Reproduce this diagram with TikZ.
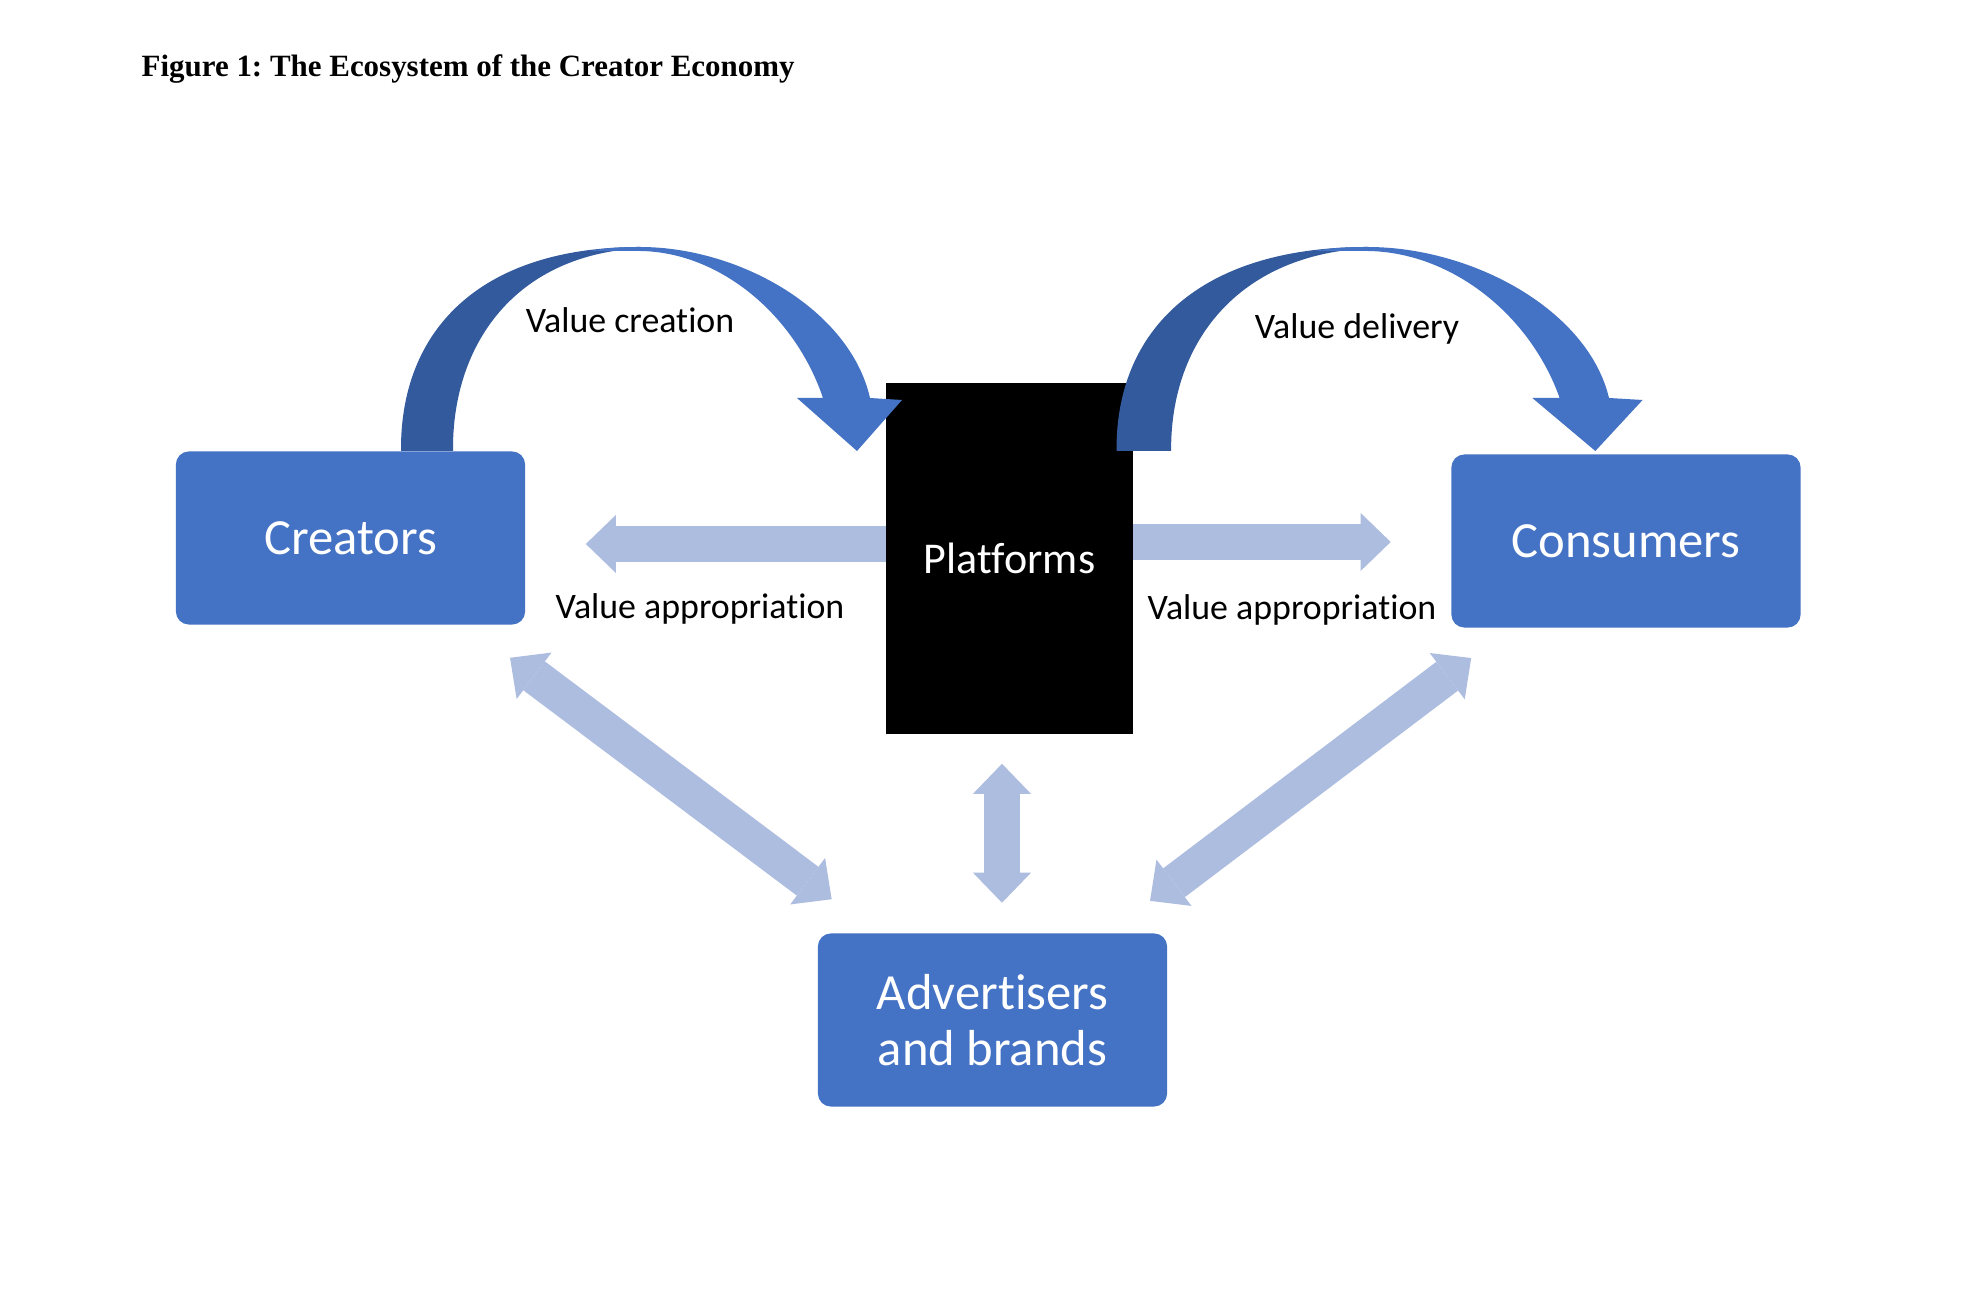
\documentclass[tikz,border=0pt]{standalone}
\usepackage{fontspec}
\setmainfont{Carlito}[Ligatures=NoCommon]
\newfontfamily\titlefont{Liberation Serif}
\usetikzlibrary{arrows.meta,positioning}
\frenchspacing

\definecolor{boxblue}{HTML}{4472C4}
\definecolor{arcdark}{HTML}{335A9D}
\definecolor{linkblue}{HTML}{ADBDE0}

\tikzset{
  actor/.style={fill=boxblue,rounded corners=0.13cm,minimum width=3.49cm,minimum height=1.73cm,
    text=white,align=center,font=\fontsize{14.4pt}{15.8pt}\selectfont},
  linkarr/.style={draw=linkblue,line width=0.36cm,-{Triangle[width=0.58cm,length=0.30cm,line width=0pt]}},
  botharr/.style={linkarr,{Triangle[width=0.58cm,length=0.30cm,line width=0pt]}-{Triangle[width=0.58cm,length=0.30cm,line width=0pt]}},
  lbl/.style={font=\fontsize{10.2pt}{12pt}\selectfont}
}

\begin{document}
\begin{tikzpicture}[x=0.01cm,y=-0.01cm]
\fill[white] (0,0) rectangle (1974,1292);
\useasboundingbox (0,0) rectangle (1974,1292);

\node[anchor=base west,inner sep=0,font=\titlefont\bfseries\fontsize{8.8pt}{10pt}\selectfont] (title) at (141,76.5) {Figure 1: The Ecosystem of the Creator Economy};

% the four players
\node[actor] (cre) at (350.5,538) {Creators};
\node[actor] (con) at (1626,541) {Consumers};
\node[actor] (adv) at (992.5,1020) {Advertisers\\and brands};

% light arrows
\draw[linkarr,shorten >=0.60cm] ([yshift=0.145cm]1009.5,558.5) -- ([yshift=0.145cm]1009.5,558.5 -| cre.east);
\draw[linkarr,shorten >=0.60cm] ([yshift=0.165cm]1009.5,558.5) -- ([yshift=0.165cm]1009.5,558.5 -| con.west);

\node[fill=black,minimum width=2.47cm,minimum height=3.51cm,text=white,font=\fontsize{12.5pt}{14pt}\selectfont] (plat) at (1009.5,558.5) {Platforms};

\draw[botharr,shorten <=1.994cm,shorten >=2.01cm] (cre.center) -- (adv.center);
\draw[botharr,shorten <=1.94cm,shorten >=1.974cm] (con.center) -- (adv.center);
\draw[botharr,shorten <=0.29cm,shorten >=0.30cm] ([xshift=-0.075cm]plat.south) -- ([xshift=-0.075cm]plat.south |- adv.north);

% curved arrows
\foreach \dx/\sc in {0/1,695.5/1.05}{
\begin{scope}[shift={(\dx,0)},xscale=\sc]
\fill[arcdark] (401,451) .. controls (400,330) and (480,247) .. (640,247) -- (650,248)
  .. controls (520,250) and (452,340) .. (453,451) -- cycle;
\fill[boxblue] (590,251) .. controls (605,248) and (620,247) .. (640,247)
  .. controls (740,247) and (850,310) .. (870,398) -- (902,400) -- (857,451) -- (797,398) -- (823,398)
  .. controls (795,315) and (720,252) .. (640,251) -- cycle;
\end{scope}
}

\node[lbl] (vcre) at (630,320) {Value creation};
\node[lbl] (vdel) at (1357,329) {Value delivery};
\node[lbl] (vapl) at (700,608.5) {Value appropriation};
\node[lbl] (vapr) at (1292,609.5) {Value appropriation};
\end{tikzpicture}
\end{document}
